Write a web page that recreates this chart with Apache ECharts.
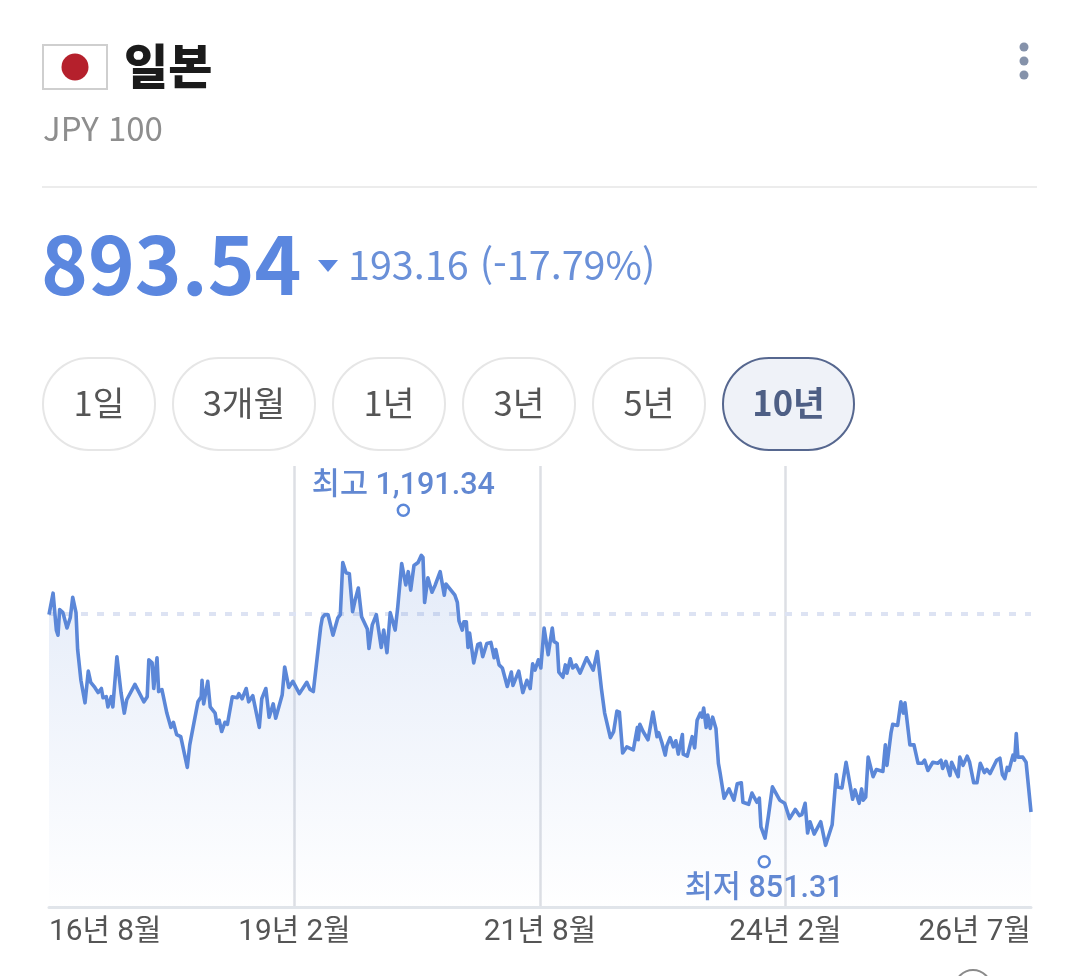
<!DOCTYPE html>
<html lang="ko">
<head>
<meta charset="utf-8">
<title>일본 JPY 100</title>
<script src="https://cdn.jsdelivr.net/npm/echarts@6/dist/echarts.min.js"></script>
<style>
html,body{margin:0;padding:0;background:#fff;}
#chart{width:1080px;height:976px;}
</style>
</head>
<body>
<div id="chart"></div>
<script>
// months elapsed since 2016-08
const months = [0,0.5,0.9,1.1,1.3,1.7,2.2,2.6,2.9,3.3,3.5,3.9,4.4,4.8,5.1,5.6,6.0,6.4,6.6,7.0,7.2,7.6,7.8,8.3,8.8,9.2,9.5,10.5,11.6,12.0,12.2,12.6,12.8,13.2,13.4,13.8,14.4,14.9,15.2,15.6,16.1,16.9,17.2,18.2,18.6,18.7,18.9,19.4,19.7,20.3,20.5,20.8,21.1,21.5,21.8,22.4,23.0,23.2,23.6,24.1,24.4,24.9,25.7,26.0,26.5,26.9,27.4,27.7,28.5,28.8,29.3,29.8,30.6,31.5,31.9,32.3,33.2,33.4,33.7,34.1,34.7,35.3,35.6,35.9,36.3,36.7,37.1,37.4,37.8,38.2,38.9,39.1,39.5,40.0,40.6,40.9,41.3,41.7,42.3,42.6,43.1,43.6,43.9,44.2,44.6,45.1,45.5,45.7,45.9,46.3,46.8,47.2,47.8,48.3,48.5,49.6,49.9,50.1,50.5,50.7,51.0,51.2,51.4,51.9,52.4,52.7,53.0,53.5,54.0,54.4,54.6,55.0,55.4,56.0,56.2,56.5,56.7,57.4,57.9,58.4,58.8,59.1,59.4,59.8,60.1,60.5,61.0,61.5,61.7,62.1,62.3,62.8,63.1,63.3,63.7,64.0,64.4,64.9,65.7,66.5,67.0,67.2,67.5,67.9,68.6,69.0,69.4,69.7,70.1,70.6,71.4,71.9,72.0,72.2,72.6,73.2,73.8,74.3,74.5,74.9,75.3,75.5,75.9,76.3,76.6,76.9,77.4,77.5,78.0,78.6,78.9,79.2,79.6,79.8,80.0,80.3,80.5,80.8,81.1,81.5,81.8,82.0,82.5,83.1,83.7,84.1,84.6,84.8,85.5,85.9,86.5,86.8,87.0,87.5,87.9,88.4,89.3,89.9,90.5,91.2,91.7,92.0,92.4,92.7,93.0,93.5,94.3,94.9,95.1,95.7,96.2,96.4,96.9,97.4,98.2,98.5,99.0,99.3,99.5,99.8,100.1,100.7,101.1,101.9,102.2,102.4,102.9,103.1,103.7,104.1,104.4,104.6,105.2,105.7,106.2,106.7,107.0,107.4,108.0,108.6,109.0,109.2,109.6,110.1,110.3,111.1,111.3,111.7,112.2,112.5,113.0,113.4,113.8,114.3,114.6,115.0,115.8,116.2,116.5,116.8,117.1,117.3,117.8,118.0,118.2,118.4,119.0,119.4,120];
const rates = [1086,1107,1071,1066,1091,1088,1073,1083,1103,1088,1052,1022,1000,1031,1020,1015,1010,1014,1005,1006,996,1006,996,1045,1010,990,1003,1018,1001,1006,1042,1039,1014,1044,1011,1013,990,976,981,969,967,937,959,1001,1006,1022,999,1021,996,990,980,983,972,981,979,1006,1005,1009,1004,1014,1001,1007,976,1004,1014,986,999,985,1008,1035,1015,1021,1009,1020,1013,1011,1074,1083,1086,1086,1066,1083,1086,1137,1127,1126,1089,1100,1112,1084,1072,1053,1076,1086,1054,1071,1049,1088,1071,1092,1136,1115,1128,1110,1134,1137,1144,1142,1098,1122,1108,1115,1128,1105,1116,1105,1098,1080,1071,1079,1079,1054,1068,1039,1057,1058,1045,1058,1059,1044,1052,1037,1034,1016,1016,1030,1017,1031,1010,1022,1014,1038,1032,1042,1034,1073,1047,1073,1060,1058,1030,1025,1037,1029,1043,1034,1037,1029,1044,1032,1050,1049,1014,990,966,972,992,991,951,957,954,976,964,979,972,964,991,967,971,961,949,958,966,957,963,950,969,950,948,967,956,983,990,986,995,976,988,975,986,975,941,932,907,916,905,921,922,903,901,912,903,907,879,868,889,918,905,902,887,896,890,891,902,873,884,872,884,861,861,881,930,918,917,942,906,915,902,916,905,908,947,928,935,933,959,939,971,979,978,1001,990,1000,959,959,941,941,944,934,942,941,944,936,943,929,942,928,947,939,948,942,922,922,941,932,935,931,944,946,930,926,937,934,949,944,970,947,947,942,893.54];
const tickLabels = ['16년 8월','19년 2월','21년 8월','24년 2월','26년 7월'];
const previousRate = 1086.7;
const highPoint = [43.3, 1188];
const lowPoint = [87.4, 845];
const highLabel = '최고 1,191.34';
const lowLabel = '최저 851.31';
const rangeLabels = ['1일','3개월','1년','3년','5년','10년'];
const currentValue = '893.54';
const changeText = '193.16 (-17.79%)';

const KR = '"Noto Sans CJK KR","Noto Sans",sans-serif';
const NUM = 'Roboto,"Noto Sans CJK KR",sans-serif';
const BLUE = '#5b87d8';

const pillBoxes = [[42,114],[172,144],[332,114],[462,114],[592,114],[722,133]];
const graphics = [
  {type:'rect',shape:{x:43,y:45,width:64,height:44},style:{fill:'#fff',stroke:'#cfcfcf',lineWidth:2}},
  {type:'circle',shape:{cx:75,cy:67,r:13.5},style:{fill:'#b5202c'}},
  {type:'text',style:{x:124,y:66,text:'일본',font:'900 48px '+KR,fill:'#1b1b1b',textVerticalAlign:'middle'}},
  {type:'text',style:{x:43,y:128,text:'JPY 100',font:'400 33px '+KR,fill:'#8e8e8e',textVerticalAlign:'middle'}},
  {type:'circle',shape:{cx:1024,cy:47,r:4.5},style:{fill:'#8592aa'}},
  {type:'circle',shape:{cx:1024,cy:61,r:4.5},style:{fill:'#8592aa'}},
  {type:'circle',shape:{cx:1024,cy:75,r:4.5},style:{fill:'#8592aa'}},
  {type:'rect',shape:{x:42,y:186,width:995,height:2},style:{fill:'#ececec'}},
  {type:'text',style:{x:41,y:265,text:currentValue,font:'700 79.5px '+KR,fill:'#5b87df',textVerticalAlign:'middle'}},
  {type:'polygon',shape:{points:[[318,260],[338,260],[328,272]]},style:{fill:'#5b87df'}},
  {type:'text',style:{x:348,y:265,text:changeText,font:'400 39.5px '+KR,fill:'#6a90d8',textVerticalAlign:'middle'}},
  {type:'circle',shape:{cx:973,cy:988,r:18},style:{fill:'#fff',stroke:'#8a8a8a',lineWidth:2}}
];
rangeLabels.forEach(function(label,i){
  const sel = i === rangeLabels.length-1;
  const b = pillBoxes[i];
  graphics.push({type:'rect',shape:{x:b[0]+1,y:358,width:b[1]-2,height:92,r:46},
    style:{fill:sel?'#eff2f8':'#fff',stroke:sel?'#56678f':'#e6e6e6',lineWidth:2}});
  graphics.push({type:'text',style:{x:b[0]+b[1]/2,y:403,text:label,
    font:(sel?'700':'400')+' 34.5px '+KR,fill:sel?'#4e5f85':'#555',
    textAlign:'center',textVerticalAlign:'middle'}});
});

const chart = echarts.init(document.getElementById('chart'));
chart.setOption({
  animation:false,
  backgroundColor:'#fff',
  grid:{left:49,right:49,top:466,bottom:69,containLabel:false},
  xAxis:{
    type:'value',min:0,max:120,interval:30,
    axisLine:{show:true,onZero:false,lineStyle:{color:'#e1e5ea',width:3}},
    axisTick:{show:false},
    axisLabel:{
      show:true,margin:11,color:'#555',fontSize:29.8,fontFamily:NUM,
      alignMinLabel:'left',alignMaxLabel:'right',
      showMinLabel:true,showMaxLabel:true,
      formatter:function(v){return tickLabels[Math.round(v/30)];}
    },
    splitLine:{show:true,showMinLine:false,showMaxLine:false,lineStyle:{color:'#dddfe4',width:2.5}}
  },
  yAxis:{type:'value',min:800.8,max:1231.1,show:false,splitLine:{show:false}},
  series:[
    {
      type:'line',
      data:months.map(function(m,i){return [m,rates[i]];}),
      showSymbol:false,symbol:'none',smooth:false,
      lineStyle:{color:BLUE,width:3.6,join:'round'},
      areaStyle:{origin:'start',color:{type:'linear',x:0,y:0,x2:0,y2:1,colorStops:[
        {offset:0,color:'rgba(91,135,216,0.24)'},
        {offset:1,color:'rgba(91,135,216,0.005)'}]}},
      markLine:{
        silent:true,symbol:'none',animation:false,z:1,
        label:{show:false},
        lineStyle:{color:'#dde3f3',type:[7,9],width:4},
        data:[{yAxis:previousRate}]
      },
      z:3
    },
    {
      type:'scatter',symbol:'circle',symbolSize:11,z:5,
      itemStyle:{color:'#fff',borderColor:BLUE,borderWidth:2.5,opacity:1},
      label:{show:true,color:'#6288d2',fontSize:30.5,fontWeight:500,fontFamily:NUM},
      data:[
        {value:highPoint,label:{position:'top',distance:2,formatter:highLabel}},
        {value:lowPoint,label:{position:'bottom',distance:6,formatter:lowLabel}}
      ]
    }
  ],
  graphic:graphics
});
</script>
</body>
</html>
